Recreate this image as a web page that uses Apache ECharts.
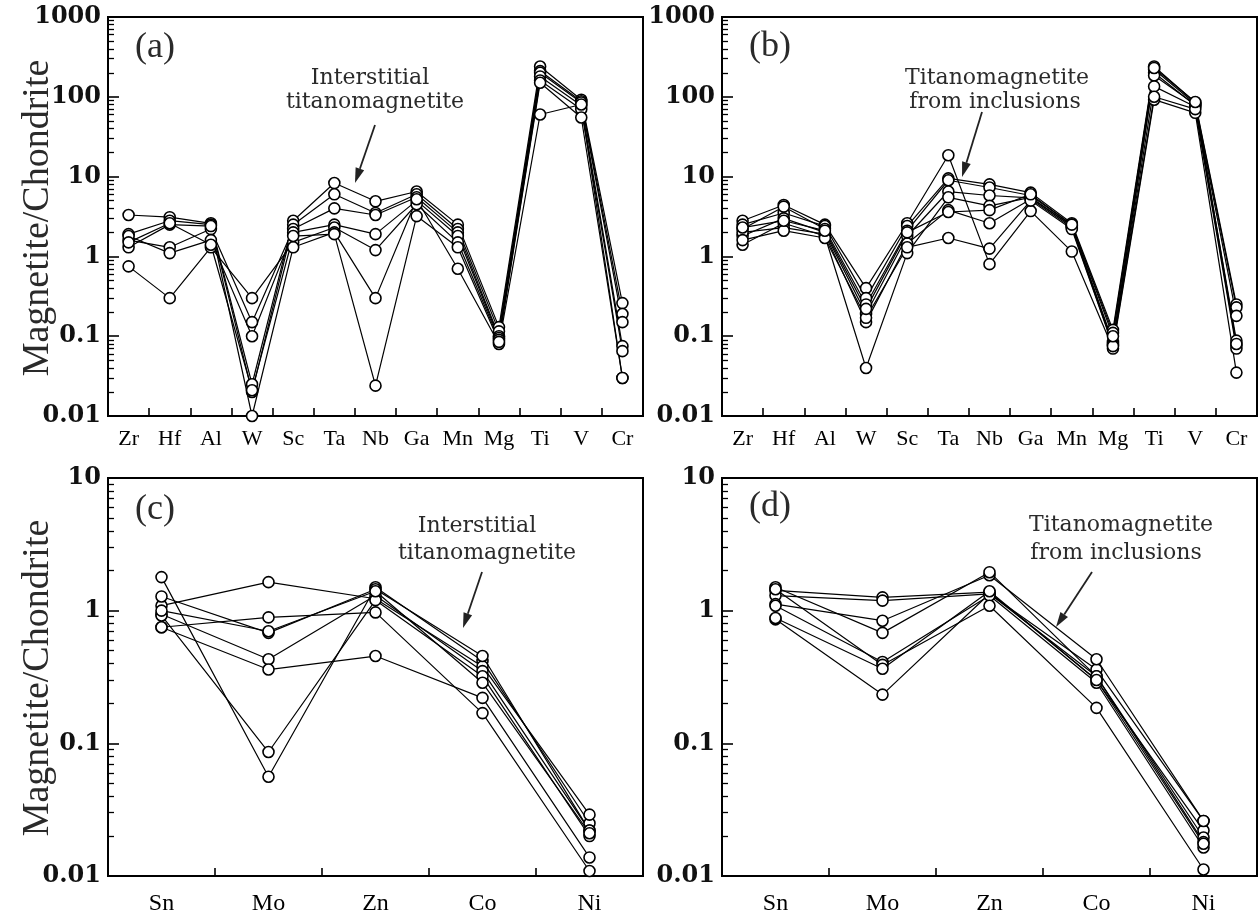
<!DOCTYPE html>
<html><head><meta charset="utf-8">
<script src="https://cdn.jsdelivr.net/npm/echarts@6/dist/echarts.min.js"></script>
<style>html,body{margin:0;padding:0;background:#fff}#c{width:1259px;height:919px}</style>
</head><body><div id="c"></div>
<script>
// ---------- categories ----------
const catsTop = ['Zr','Hf','Al','W','Sc','Ta','Nb','Ga','Mn','Mg','Ti','V','Cr'];
const catsBottom = ['Sn','Mo','Zn','Co','Ni'];
// ---------- tick labels ----------
const ticksTop = ['0.01','0.1','1','10','100','1000'];
const ticksBottom = ['0.01','0.1','1','10'];
const minorSteps = [2,3,4,5,6,7,8,9];
const yTitle = 'Magnetite/Chondrite';
// ---------- panel (a): interstitial titanomagnetite ----------
const a1 = [3.3, 3.1, 2.6, 0.025, 2.8, 8.3, 4.9, 6.5, 2.5, 0.13, 240, 92, 0.26];
const a2 = [1.9, 2.8, 2.5, 0.02, 2.5, 6.0, 3.5, 6.0, 2.2, 0.115, 210, 88, 0.19];
const a3 = [1.6, 1.3, 2.2, 0.15, 2.2, 4.0, 3.3, 5.5, 2.0, 0.10, 200, 85, 0.15];
const a4 = [1.8, 1.1, 1.6, 0.10, 2.0, 2.5, 1.9, 5.0, 1.8, 0.095, 180, 78, 0.075];
const a5 = [0.75, 0.3, 1.3, 0.30, 1.5, 2.3, 1.2, 4.5, 1.5, 0.09, 160, 70, 0.065];
const a6 = [1.3, 2.5, 2.4, 0.01, 1.3, 2.0, 0.3, 5.2, 0.7, 0.08, 60, 80, 0.03];
const a7 = [1.5, 2.6, 1.4, 0.021, 1.8, 1.9, 0.024, 3.2, 1.3, 0.085, 150, 55, 0.03];
// ---------- panel (b): titanomagnetite from inclusions ----------
const b1 = [2.8, 4.4, 2.5, 0.40, 2.6, 18.5, 0.8, 3.7, 1.15, 0.07, 92, 63, 0.035];
const b2 = [2.5, 3.5, 2.4, 0.30, 2.4, 9.5, 8.0, 6.3, 2.6, 0.12, 240, 85, 0.25];
const b3 = [2.2, 4.2, 2.2, 0.25, 2.1, 9.0, 7.3, 5.8, 2.5, 0.11, 220, 82, 0.23];
const b4 = [1.8, 3.0, 2.0, 0.19, 1.8, 6.5, 5.8, 5.4, 2.4, 0.085, 200, 78, 0.18];
const b5 = [1.4, 2.6, 1.8, 0.04, 1.1, 5.5, 4.3, 5.5, 2.4, 0.08, 185, 80, 0.088];
const b6 = [2.0, 2.3, 1.9, 0.15, 1.45, 3.8, 2.6, 5.2, 2.3, 0.077, 135, 75, 0.077];
const b7 = [1.6, 2.1, 1.7, 0.17, 1.3, 1.7, 1.25, 5.0, 2.2, 0.075, 100, 70, 0.07];
const b8 = [2.3, 2.8, 2.1, 0.22, 2.0, 3.6, 3.8, 6.0, 2.5, 0.10, 230, 86, 0.08];
// ---------- panel (c): interstitial titanomagnetite ----------
const c1 = [1.79, 0.056, 1.5, 0.417, 0.025];
const c2 = [1.09, 1.64, 1.23, 0.38, 0.029];
const c3 = [1.28, 0.68, 1.45, 0.455, 0.022];
const c4 = [0.94, 0.43, 1.3, 0.35, 0.022];
const c5 = [0.92, 0.086, 1.2, 0.32, 0.020];
const c6 = [0.75, 0.89, 0.97, 0.169, 0.0109];
const c7 = [0.75, 0.36, 0.455, 0.22, 0.0138];
const c8 = [1.0, 0.70, 1.4, 0.286, 0.021];
// ---------- panel (d): titanomagnetite from inclusions ----------
const d1 = [0.86, 0.233, 1.34, 0.36, 0.026];
const d2 = [1.42, 1.26, 1.38, 0.30, 0.022];
const d3 = [1.3, 1.19, 1.34, 0.32, 0.0195];
const d4 = [1.12, 0.84, 1.85, 0.43, 0.026];
const d5 = [1.5, 0.68, 1.95, 0.32, 0.018];
const d6 = [1.09, 0.41, 1.3, 0.286, 0.0164];
const d7 = [1.45, 0.39, 1.09, 0.185, 0.0112];
const d8 = [0.88, 0.365, 1.4, 0.30, 0.0175];

const panels = [
  {cats: catsTop, series: [a1,a2,a3,a4,a5,a6,a7], ticks: ticksTop, box: [108, 17, 535, 399], lower: false},
  {cats: catsTop, series: [b1,b2,b3,b4,b5,b6,b7,b8], ticks: ticksTop, box: [722, 17, 535, 399], lower: false},
  {cats: catsBottom, series: [c1,c2,c3,c4,c5,c6,c7,c8], ticks: ticksBottom, box: [108, 478, 535, 398], lower: true},
  {cats: catsBottom, series: [d1,d2,d3,d4,d5,d6,d7,d8], ticks: ticksBottom, box: [722, 478, 535, 398], lower: true}
];

const TICK = '#000';
const grid = [], xAxis = [], yAxis = [], series = [];
panels.forEach((p, i) => {
  const [l, t, w, h] = p.box;
  grid.push({left: l, top: t, width: w, height: h, show: true, borderColor: '#000', borderWidth: 2, outerBoundsMode: 'none'});
  xAxis.push({
    type: 'category', gridIndex: i, data: p.cats,
    axisLine: {onZero: false, lineStyle: {color: '#000', width: 2}},
    axisTick: {show: true, inside: true, length: 8, lineStyle: {color: TICK, width: 1.6}},
    axisLabel: {interval: 0, color: '#000', fontFamily: 'Liberation Serif', fontSize: p.lower ? 24 : 22, margin: p.lower ? 16 : 12},
    splitLine: {show: false}
  });
  const lo = Number(p.ticks[0]), hi = Number(p.ticks[p.ticks.length - 1]);
  yAxis.push({
    type: 'log', gridIndex: i, min: lo, max: hi,
    axisLine: {show: true, lineStyle: {color: '#000', width: 2}},
    axisTick: {show: true, inside: true, length: 11, lineStyle: {color: TICK, width: 1.6}},
    axisLabel: {color: '#111', fontFamily: 'DejaVu Serif', fontWeight: 'bold', fontSize: 24, margin: 7,
      formatter: v => { const s = String(+Number(v).toPrecision(6)); return p.ticks.indexOf(s) >= 0 ? s : ''; }},
    splitLine: {show: false}
  });
  // minor ticks of the log scale (2..9 in each decade), on an overlaid value axis in log10 units
  const minors = [];
  for (let e = Math.log10(lo); e < Math.log10(hi) - 0.5; e++) minorSteps.forEach(m => minors.push(e + Math.log10(m)));
  yAxis.push({
    type: 'value', gridIndex: i, min: Math.log10(lo), max: Math.log10(hi), position: 'left',
    axisLine: {show: false}, axisLabel: {show: false}, splitLine: {show: false},
    axisTick: {show: true, inside: true, length: 6, customValues: minors, lineStyle: {color: TICK, width: 1.3}}
  });
});
panels.forEach((p, i) => {
  p.series.forEach(arr => {
    series.push({
      type: 'line', xAxisIndex: i, yAxisIndex: i * 2, data: arr,
      symbol: 'circle', symbolSize: 11, clip: false,
      lineStyle: {color: '#000', width: 1.2},
      itemStyle: {color: '#fff', borderColor: '#000', borderWidth: 1.6},
      emphasis: {disabled: true}
    });
  });
});

function arrow(x1, y1, x2, y2) {
  const ang = Math.atan2(y2 - y1, x2 - x1), L = 15, W = 4.5;
  const bx = x2 - L * Math.cos(ang), by = y2 - L * Math.sin(ang);
  const px = -Math.sin(ang) * W, py = Math.cos(ang) * W;
  return [
    {type: 'line', shape: {x1, y1, x2: bx, y2: by}, style: {stroke: '#222', lineWidth: 1.8}, z: 10},
    {type: 'polygon', shape: {points: [[x2, y2], [bx + px, by + py], [bx - px, by - py]]}, style: {fill: '#222'}, z: 10}
  ];
}
function label(text, x, y, size, fam, rot) {
  return {type: 'text', x, y, rotation: rot || 0, z: 10, style: {text, align: 'center', verticalAlign: 'middle',
    font: size + 'px "' + fam + '"', fill: '#2a2a2a'}};
}
const ann = 'DejaVu Serif';
const graphic = [
  label(yTitle, 38, 218, 38, 'Liberation Serif', Math.PI / 2),
  label(yTitle, 38, 678, 38, 'Liberation Serif', Math.PI / 2),
  label('(a)', 155, 48, 36, 'Liberation Serif'),
  label('(b)', 770, 47, 36, 'Liberation Serif'),
  label('(c)', 155, 510, 36, 'Liberation Serif'),
  label('(d)', 770, 507, 36, 'Liberation Serif'),
  label('Interstitial', 370, 78, 22, ann),
  label('titanomagnetite', 375, 102, 22, ann),
  ...arrow(375, 125, 355, 183),
  label('Titanomagnetite', 997, 78, 22, ann),
  label('from inclusions', 995, 102, 22, ann),
  ...arrow(982, 112, 962, 177),
  label('Interstitial', 477, 526, 22, ann),
  label('titanomagnetite', 487, 553, 22, ann),
  ...arrow(482, 572, 463, 628),
  label('Titanomagnetite', 1121, 525, 22, ann),
  label('from inclusions', 1116, 553, 22, ann),
  ...arrow(1092, 572, 1056, 627)
];

const chart = echarts.init(document.getElementById('c'));
chart.setOption({
  backgroundColor: '#fff', animation: false,
  grid, xAxis, yAxis, series, graphic
});
</script></body></html>
